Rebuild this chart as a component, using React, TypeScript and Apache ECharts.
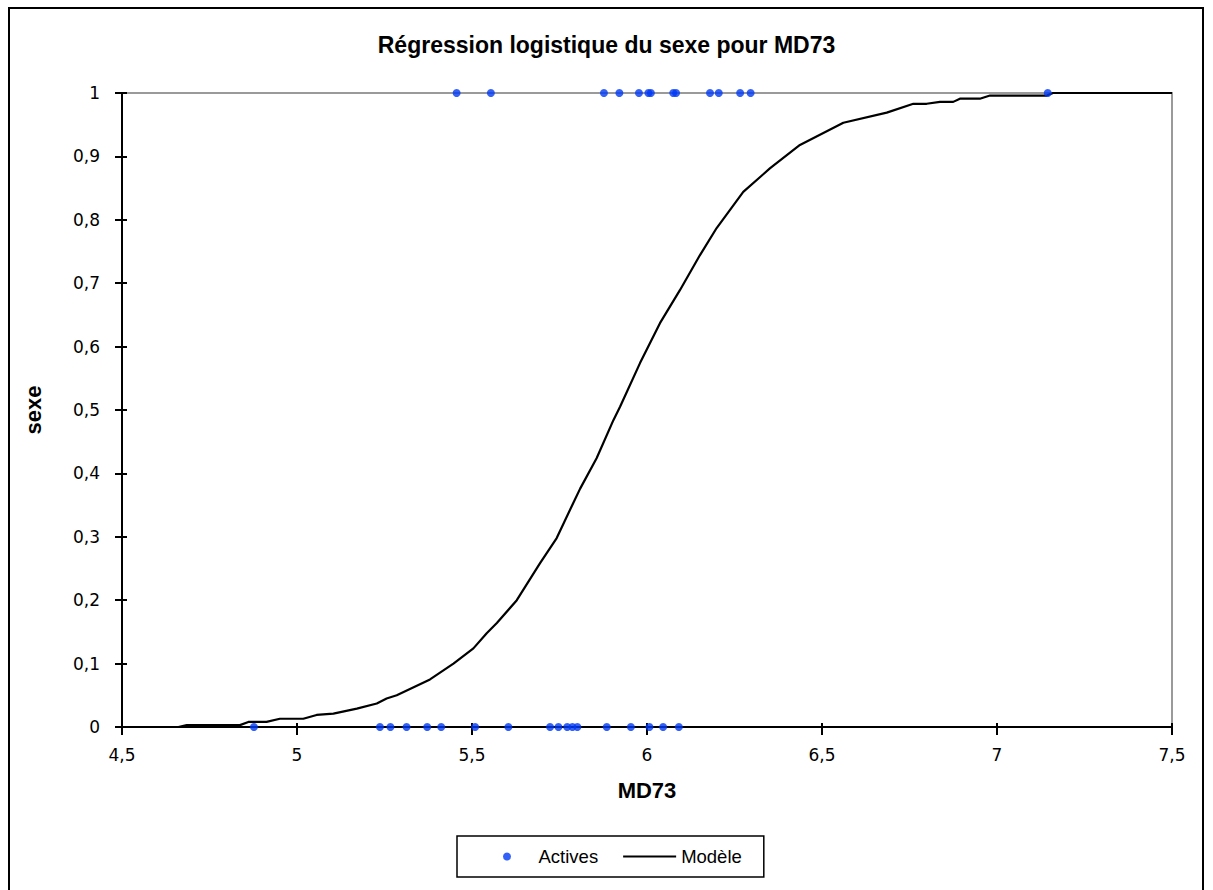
import React, { useEffect, useRef } from "react";
import * as echarts from "echarts";

const titleText = "Régression logistique du sexe pour MD73";
const xName = "MD73";
const yName = "sexe";
const legendNames = ["Actives", "Modèle"];

// observations (MD73 value) with sexe = 1
const activesAtOne = [5.456, 5.554, 5.877, 5.921, 5.977, 6.004, 6.011, 6.075, 6.083, 6.18, 6.205, 6.266, 6.296, 7.145];
// observations (MD73 value) with sexe = 0
const activesAtZero = [4.877, 5.237, 5.267, 5.313, 5.372, 5.412, 5.509, 5.604, 5.723, 5.747, 5.772, 5.787, 5.801, 5.885, 5.954, 6.007, 6.046, 6.091];

// model curve
const modelX = [4.661, 4.685, 4.837, 4.861, 4.913, 4.951, 5.018, 5.056, 5.104, 5.171, 5.228, 5.256, 5.285, 5.38, 5.447, 5.504, 5.542, 5.571, 5.628, 5.694, 5.742, 5.789, 5.809, 5.856, 5.904, 5.923, 5.98, 6.037, 6.094, 6.151, 6.199, 6.275, 6.351, 6.437, 6.561, 6.685, 6.761, 6.799, 6.837, 6.875, 6.894, 6.951, 6.98, 7.142, 7.16, 7.5];
const modelY = [0.0, 0.003, 0.003, 0.008, 0.008, 0.013, 0.013, 0.019, 0.021, 0.029, 0.037, 0.045, 0.05, 0.075, 0.1, 0.124, 0.148, 0.164, 0.2, 0.258, 0.298, 0.353, 0.376, 0.424, 0.484, 0.505, 0.574, 0.637, 0.689, 0.744, 0.787, 0.844, 0.881, 0.918, 0.953, 0.969, 0.983, 0.983, 0.986, 0.986, 0.991, 0.991, 0.996, 0.996, 1.0, 1.0];

const xMin = 4.5, xMax = 7.5, xStep = 0.5;
const yMin = 0, yMax = 1, yStep = 0.1;

const fmt = (v: number) => String(Math.round(v * 10) / 10).replace(".", ",");

export default function App() {
  const ref = useRef<HTMLDivElement>(null);
  useEffect(() => {
    if (!ref.current) return;
    const chart = echarts.init(ref.current, undefined, { renderer: "svg" });
    const labelFont = { fontFamily: "DejaVu Sans", fontSize: 17, color: "#000" };
    chart.setOption({
      animation: false,
      backgroundColor: "#fff",
      title: {
        text: titleText,
        left: "center",
        top: 28,
        textStyle: { fontFamily: "Liberation Sans", fontWeight: "bold", fontSize: 23, color: "#000" },
      },
      grid: {
        left: 122, right: 41, top: 93, bottom: 163,
        show: true, borderColor: "#9a9a9a", borderWidth: 2, backgroundColor: "transparent",
      },
      legend: {
        left: 457, top: 836,
        padding: [11, 22, 11, 46],
        borderColor: "#000", borderWidth: 1.5,
        itemWidth: 53, itemHeight: 8, itemGap: 25,
        textStyle: { fontFamily: "Liberation Sans", fontSize: 18.5, color: "#000" },
        data: [
          { name: legendNames[0], icon: "circle", itemStyle: { color: "#0039f5" } },
          { name: legendNames[1], icon: "path://M0,0L53,0L53,2L0,2Z", itemStyle: { color: "#000" } },
        ],
      },
      xAxis: [
        {
          type: "value", min: xMin, max: xMax, interval: xStep,
          name: xName, nameLocation: "middle", nameGap: 52,
          nameTextStyle: { fontFamily: "Liberation Sans", fontWeight: "bold", fontSize: 22, color: "#000" },
          axisLine: { show: true, onZero: false, lineStyle: { color: "#000", width: 2 } },
          axisTick: { show: true, length: 8, lineStyle: { color: "#000", width: 2 } },
          axisLabel: { ...labelFont, margin: 19, formatter: fmt },
          splitLine: { show: false },
        },
        {
          type: "value", min: xMin, max: xMax, interval: xStep, position: "bottom",
          axisLine: { show: false },
          axisTick: { show: true, inside: true, length: 4, lineStyle: { color: "#000", width: 2 } },
          axisLabel: { show: false },
          splitLine: { show: false },
        },
      ],
      yAxis: [
        {
          type: "value", min: yMin, max: yMax, interval: yStep,
          name: yName, nameLocation: "middle", nameGap: 78,
          nameTextStyle: { fontFamily: "Liberation Sans", fontWeight: "bold", fontSize: 22, color: "#000" },
          axisLine: { show: true, onZero: false, lineStyle: { color: "#000", width: 2 } },
          axisTick: { show: true, length: 7, lineStyle: { color: "#000", width: 2 } },
          axisLabel: { ...labelFont, margin: 22, formatter: fmt },
          splitLine: { show: false },
        },
        {
          type: "value", min: yMin, max: yMax, interval: yStep, position: "left",
          axisLine: { show: false },
          axisTick: { show: true, inside: true, length: 5, lineStyle: { color: "#000", width: 2 } },
          axisLabel: { show: false },
          splitLine: { show: false },
        },
      ],
      series: [
        {
          name: legendNames[0],
          type: "scatter",
          xAxisIndex: 0, yAxisIndex: 0,
          symbol: "circle", symbolSize: 8,
          itemStyle: { color: "#0039f5" },
          data: [
            ...activesAtOne.map((x) => [x, 1]),
            ...activesAtZero.map((x) => [x, 0]),
          ],
          z: 4,
        },
        {
          name: legendNames[1],
          type: "line",
          xAxisIndex: 0, yAxisIndex: 0,
          showSymbol: false, symbol: "none",
          lineStyle: { color: "#000", width: 2.2 },
          itemStyle: { color: "#000" },
          data: modelX.map((x, i) => [x, modelY[i]]),
          z: 3,
        },
      ],
      graphic: [
        {
          type: "rect",
          shape: { x: 9, y: 8, width: 1194, height: 900 },
          style: { fill: "none", stroke: "#000", lineWidth: 2 },
          silent: true,
        },
      ],
    });
    return () => chart.dispose();
  }, []);
  return <div ref={ref} style={{ position: "absolute", left: 0, top: 0, width: 1213, height: 890 }} />;
}
